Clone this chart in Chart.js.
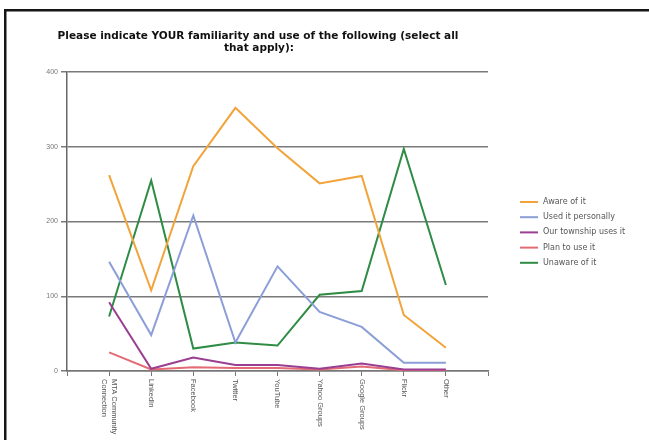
<!DOCTYPE html>
<html><head><meta charset="utf-8">
<script src="https://cdn.jsdelivr.net/npm/chart.js@4"></script>
<style>html,body{margin:0;padding:0;background:#fff;overflow:hidden}</style>
</head><body>
<canvas id="c" width="649" height="440"></canvas>
<script>
const titleLines = ['Please indicate YOUR familiarity and use of the following (select all', 'that apply):'];
const categories = [['MTA Community', 'Connection'], 'LinkedIn', 'Facebook', 'Twitter', 'YouTube', 'Yahoo Groups', 'Google Groups', 'Flickr', 'Other'];
const seriesNames = ['Aware of it', 'Used it personally', 'Our township uses it', 'Plan to use it', 'Unaware of it'];
const awareOfIt = [262, 108, 274, 352, 298, 251, 261, 75, 31];
const usedItPersonally = [146, 48, 208, 38, 140, 79, 59, 11, 11];
const ourTownshipUsesIt = [92, 3, 18, 8, 8, 3, 10, 2, 2];
const planToUseIt = [25, 2, 5, 4, 4, 2, 6, 1, 1];
const unawareOfIt = [73, 255, 30, 38, 34, 102, 107, 297, 115];
const yTicks = [0, 100, 200, 300, 400];
const seriesColors = ['#F2A33A', '#8C9ED8', '#9A3E92', '#E36B74', '#2E8C45'];

const FONT = '"Liberation Sans", Arial, sans-serif';
const WIDEFONT = '"DejaVu Sans", "Liberation Sans", sans-serif';
const pad = v => [null, ...v, null];
const labels = ['', ...categories, ''];
const allSeries = [awareOfIt, usedItPersonally, ourTownshipUsesIt, planToUseIt, unawareOfIt];

const deco = {
  id: 'deco',
  beforeDraw(chart) {
    const ctx = chart.ctx;
    ctx.save();
    ctx.fillStyle = '#fff';
    ctx.fillRect(0, 0, chart.width, chart.height);
    ctx.fillStyle = '#151515';
    ctx.fillRect(4, 9, chart.width - 4, 2.5);
    ctx.fillRect(4, 9, 2.5, chart.height - 9);
    ctx.restore();
  },
  afterDraw(chart) {
    const ctx = chart.ctx;
    ctx.save();
    // title
    ctx.fillStyle = '#111';
    ctx.font = 'bold 10px ' + WIDEFONT;
    const w = ctx.measureText(titleLines[0]).width;
    const fs = Math.min(11, 10 * 401 / w);
    ctx.font = 'bold ' + fs.toFixed(2) + 'px ' + WIDEFONT;
    ctx.textAlign = 'center';
    ctx.textBaseline = 'middle';
    ctx.fillText(titleLines[0], 258, 36.5);
    ctx.fillText(titleLines[1], 259, 48.5);
    // x labels rotated clockwise
    const xs = chart.scales.x;
    ctx.font = '7.5px ' + FONT;
    ctx.fillStyle = '#555';
    categories.forEach((lab, i) => {
      const lines = Array.isArray(lab) ? lab : [lab];
      const x = xs.getPixelForValue(i + 1);
      ctx.save();
      ctx.translate(x, 379);
      ctx.rotate(Math.PI / 2);
      ctx.textAlign = 'left';
      ctx.textBaseline = 'middle';
      const lh = 10;
      lines.forEach((ln, j) => {
        ctx.fillText(ln, 0, (j - (lines.length - 1) / 2) * lh);
      });
      ctx.restore();
    });
    // legend
    ctx.font = '8px ' + WIDEFONT;
    ctx.textAlign = 'left';
    ctx.textBaseline = 'middle';
    seriesNames.forEach((name, i) => {
      const y = 202 + i * 15.2;
      ctx.strokeStyle = seriesColors[i];
      ctx.lineWidth = 2;
      ctx.beginPath();
      ctx.moveTo(520, y);
      ctx.lineTo(538, y);
      ctx.stroke();
      ctx.fillStyle = '#555';
      ctx.fillText(name, 543, y);
    });
    ctx.restore();
  }
};

new Chart(document.getElementById('c'), {
  type: 'line',
  data: {
    labels: labels,
    datasets: allSeries.map((s, i) => ({
      label: seriesNames[i],
      data: pad(s),
      borderColor: seriesColors[i],
      backgroundColor: seriesColors[i],
      borderWidth: 2,
      pointRadius: 0,
      tension: 0,
      fill: false
    }))
  },
  options: {
    responsive: false,
    animation: false,
    devicePixelRatio: 1,
    layout: { padding: { top: 72, right: 161, left: 0, bottom: 0 } },
    plugins: { legend: { display: false }, title: { display: false }, tooltip: { enabled: false } },
    scales: {
      x: {
        type: 'category',
        offset: false,
        afterFit(s) { s.height = 69; },
        ticks: { display: false, autoSkip: false },
        grid: { display: true, drawOnChartArea: false, drawTicks: true, tickLength: 5, color: '#777', lineWidth: 1 },
        border: { display: true, color: '#777', width: 1.5 }
      },
      y: {
        min: 0, max: 400,
        afterFit(s) { s.width = 67; },
        afterBuildTicks(s) { s.ticks = yTicks.map(v => ({ value: v })); },
        ticks: { font: { size: 7, family: FONT }, color: '#777', padding: 3 },
        grid: { color: '#7a7a7a', lineWidth: 1.5, tickLength: 6 },
        border: { display: true, color: '#666', width: 1.5 }
      }
    }
  },
  plugins: [deco]
});
</script>
</body></html>
